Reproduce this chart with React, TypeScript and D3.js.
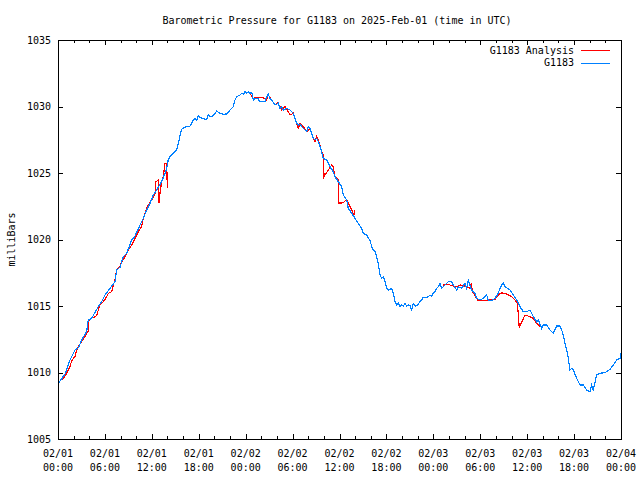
import React from "react";
import * as d3 from "d3";

const title = "Barometric Pressure for G1183 on 2025-Feb-01 (time in UTC)";
const yLabel = "milliBars";
const seriesNames = ["G1183 Analysis", "G1183"];
const seriesColors = ["#ff0000", "#0080ff"];
const startUtc = Date.UTC(2025, 1, 1, 0, 0);
const endUtc = Date.UTC(2025, 1, 4, 0, 0);
const yDomain = [1005, 1035];
const yTicks = [1005, 1010, 1015, 1020, 1025, 1030, 1035];

// hours since 02/01 00:00 UTC
const obsHours = [
  0.0, 0.9, 1.53, 2.17, 2.6, 3.03, 3.67, 3.87, 4.31, 5.15, 5.59, 6.01, 6.65, 7.29, 7.51, 7.93, 8.35, 8.79, 9.42, 9.85,
  10.49, 10.91, 11.34, 11.76, 12.19, 12.62, 13.26, 13.68, 13.9, 14.1, 14.32, 14.75, 15.18, 15.38, 15.73, 15.82, 16.24,
  16.88, 17.3, 17.52, 17.74, 17.94, 18.38, 19.02, 19.22, 19.44, 19.86, 20.29, 20.72, 21.14, 21.57, 22.0, 22.42, 22.63,
  22.85, 23.27, 23.49, 23.7, 23.91, 24.13, 24.34, 24.55, 24.77, 24.97, 25.19, 25.61, 25.83, 26.47, 26.69, 26.89, 27.11,
  27.33, 27.75, 28.17, 28.39, 28.61, 28.81, 29.25, 29.67, 30.09, 30.31, 30.52, 30.73, 30.95, 31.16, 31.59, 31.8, 32.0,
  32.23, 32.65, 32.86, 33.08, 33.29, 33.5, 33.72, 33.93, 34.36, 34.78, 35.2, 35.42, 35.84, 36.28, 36.48, 36.92, 37.12,
  37.56, 37.98, 38.4, 38.84, 39.05, 39.48, 39.68, 39.9, 40.12, 40.32, 40.54, 40.75, 40.96, 41.18, 41.4, 41.6, 41.82,
  42.03, 42.24, 42.67, 42.88, 43.1, 43.31, 43.52, 43.73, 43.95, 44.16, 44.37, 44.59, 44.8, 45.01, 45.23, 45.44, 45.65,
  45.87, 46.07, 46.29, 46.51, 46.71, 47.14, 47.35, 47.57, 47.79, 47.99, 48.21, 48.43, 48.63, 48.85, 49.07, 49.7, 49.91,
  50.34, 50.55, 50.98, 51.19, 51.62, 52.05, 52.26, 52.47, 52.9, 53.32, 53.54, 53.96, 54.39, 54.82, 55.03, 55.46, 55.88,
  56.3, 56.52, 56.74, 56.94, 57.16, 57.8, 58.22, 58.66, 59.08, 59.5, 59.94, 60.36, 60.78, 61.21, 61.42, 61.85, 62.06,
  62.49, 62.92, 63.34, 63.77, 64.19, 64.41, 64.62, 64.83, 65.05, 65.26, 65.47, 65.69, 65.9, 66.33, 66.75, 67.17, 67.61,
  68.03, 68.25, 68.45, 68.89, 69.31, 69.95, 70.59, 71.01, 71.44, 71.87, 72.0,
];
const obsValues = [
  1009.15, 1009.89, 1010.94, 1011.69, 1011.86, 1012.44, 1013.07, 1013.95, 1014.08, 1014.95, 1015.32, 1015.83, 1016.33,
  1016.83, 1017.71, 1017.91, 1018.71, 1018.96, 1019.96, 1020.26, 1021.09, 1021.59, 1022.22, 1022.72, 1023.35, 1023.72,
  1024.35, 1024.98, 1025.35, 1026.0, 1026.23, 1026.48, 1026.73, 1027.23, 1028.11, 1028.29, 1028.44, 1028.53, 1028.98,
  1029.11, 1028.93, 1029.29, 1029.11, 1029.03, 1029.36, 1029.23, 1029.31, 1029.66, 1029.49, 1029.41, 1029.44, 1029.74,
  1029.99, 1030.49, 1030.74, 1030.86, 1030.99, 1030.92, 1031.11, 1030.99, 1031.11, 1030.99, 1031.07, 1030.49, 1030.61,
  1030.56, 1030.36, 1030.36, 1030.74, 1030.92, 1030.61, 1030.49, 1030.11, 1030.24, 1029.86, 1029.99, 1029.74, 1029.86,
  1029.74, 1029.49, 1029.11, 1028.74, 1028.61, 1028.66, 1028.48, 1028.23, 1028.11, 1028.48, 1028.36, 1027.61, 1027.48,
  1027.61, 1027.35, 1026.98, 1026.6, 1026.1, 1025.98, 1025.47, 1025.1, 1024.72, 1024.35, 1023.97, 1023.35, 1022.97,
  1022.35, 1021.97, 1021.6, 1021.2, 1020.84, 1020.47, 1020.34, 1020.09, 1019.96, 1019.46, 1019.21, 1019.08, 1018.71,
  1018.21, 1017.33, 1017.08, 1017.2, 1016.83, 1016.33, 1016.2, 1016.33, 1015.95, 1015.32, 1015.08, 1015.2, 1014.95,
  1015.08, 1015.0, 1015.2, 1015.0, 1015.08, 1015.02, 1014.7, 1015.2, 1015.0, 1015.02, 1015.15, 1015.32, 1015.45,
  1015.65, 1015.63, 1015.7, 1015.83, 1015.75, 1015.95, 1016.08, 1016.33, 1016.45, 1016.71, 1016.33, 1016.71, 1016.83,
  1016.83, 1016.58, 1016.2, 1016.45, 1016.33, 1016.71, 1016.33, 1016.95, 1016.2, 1015.95, 1015.58, 1015.45, 1015.58,
  1015.83, 1015.45, 1015.4, 1015.58, 1015.95, 1016.33, 1016.58, 1016.71, 1016.45, 1016.2, 1015.83, 1015.45, 1014.95,
  1014.57, 1014.57, 1014.7, 1014.2, 1013.82, 1013.95, 1013.32, 1013.57, 1013.57, 1013.2, 1012.95, 1013.5, 1013.5,
  1013.2, 1012.82, 1012.2, 1011.69, 1011.07, 1010.19, 1010.32, 1010.19, 1009.56, 1009.06, 1009.06, 1008.68, 1008.56,
  1009.06, 1008.68, 1009.81, 1009.94, 1009.99, 1010.24, 1010.56, 1010.94, 1011.07, 1011.44,
];

// null marks a gap between analysis segments
const analysisHours = [
  0.5, 0.68, 1.11, 1.53, 1.75, 2.17, 2.39, 2.6, 3.03, 3.45, 3.67, 3.87, 3.96, 4.31, 4.73, 4.95, 5.15, 5.37, 5.79, 6.23,
  6.43, 6.87, 7.07, 7.29, 7.51, 7.93, 8.15, 8.57, 8.99, 9.42, 9.85, 10.27, 10.7, 10.91, 11.13, 11.34, 11.55, 11.98, 12.4,
  12.53, 12.83, 12.92, 13.04, 13.26, 13.47, 13.68, 13.9, 13.98, null,
  24.6, 24.97, 25.3, 25.74, 26.25, 26.69, 26.89, 27.33, 27.75, 28.04, 28.39, 28.61, 29.03, 29.45, 29.67, 30.09, 30.52,
  30.73, 30.95, 31.37, 31.8, 32.23, 32.45, 32.86, 33.08, 33.29, 33.5, 33.72, 33.93, 34.02, 34.57, 35.0, 35.2, 35.42,
  35.84, 35.93, 36.48, 36.92, 37.12, 37.56, 37.85, 37.9, null,
  49.28, 49.7, 50.13, 50.55, 50.98, 51.41, 51.83, 52.26, 52.69, 52.85, 53.0, 53.54, 53.75, 54.39, 55.24, 55.88, 56.3,
  56.74, 57.38, 58.02, 58.44, 58.73, 58.86, 58.98, 59.72, 60.36, 60.78, 61.21, 61.64,
];
const analysisValues = [
  1009.45, 1009.56, 1009.94, 1010.44, 1010.89, 1011.19, 1011.69, 1011.94, 1012.32, 1012.69, 1012.99, 1013.07, 1013.95,
  1014.08, 1014.2, 1014.27, 1014.7, 1015.08, 1015.32, 1015.7, 1015.95, 1016.08, 1016.58, 1016.95, 1017.71, 1017.95,
  1018.33, 1018.71, 1019.21, 1019.59, 1020.09, 1020.59, 1020.96, 1021.59, 1021.97, 1022.35, 1022.59, 1022.97, 1023.47,
  1024.35, 1024.47, 1022.72, 1023.47, 1024.35, 1024.72, 1025.73, 1025.73, 1023.85, null,
  1030.95, 1030.61, 1030.7, 1030.65, 1030.65, 1030.49, 1030.86, 1030.49, 1030.11, 1030.29, 1029.99, 1029.74, 1029.99,
  1029.61, 1029.36, 1029.49, 1028.74, 1028.36, 1028.74, 1028.48, 1028.11, 1028.36, 1027.9, 1027.35, 1027.73, 1027.48,
  1027.1, 1026.6, 1026.35, 1024.72, 1025.23, 1025.6, 1025.47, 1024.72, 1024.47, 1022.72, 1022.77, 1023.02, 1022.72,
  1022.22, 1021.84, 1022.2, null,
  1016.58, 1016.65, 1016.58, 1016.5, 1016.45, 1016.58, 1016.53, 1016.45, 1016.33, 1016.7, 1016.1, 1015.58, 1015.4,
  1015.4, 1015.45, 1015.5, 1015.83, 1016.0, 1015.9, 1015.7, 1015.45, 1015.2, 1014.45, 1013.4, 1014.32, 1014.2, 1014.08,
  1013.7, 1013.45,
];

const W = 640;
const H = 480;
const M = { left: 58, right: 621, top: 40, bottom: 439 };
const FONT = "'DejaVu Sans Mono', 'Liberation Mono', monospace";

type Pt = { t: Date; v: number | null };

export default function App() {
  const x = d3.scaleUtc().domain([new Date(startUtc), new Date(endUtc)]).range([M.left, M.right]);
  const y = d3.scaleLinear().domain(yDomain).range([M.bottom, M.top]);

  const toPts = (hs: (number | null)[], vs: (number | null)[]): Pt[] =>
    hs.map((h, i) => ({ t: new Date(startUtc + (h ?? 0) * 3600e3), v: h === null ? null : vs[i] }));

  const line = d3
    .line<Pt>()
    .defined((d) => d.v !== null)
    .x((d) => x(d.t))
    .y((d) => y(d.v as number));

  const obs = toPts(obsHours, obsValues);
  const ana = toPts(analysisHours, analysisValues);

  const majorX = x.ticks(d3.utcHour.every(6) as d3.TimeInterval);
  const minorX = x.ticks(d3.utcHour.every(2) as d3.TimeInterval);
  const fmtDate = d3.utcFormat("%m/%d");
  const fmtTime = d3.utcFormat("%H:%M");

  const majLen = 5;
  const minLen = 3;

  return (
    <svg width={W} height={H} style={{ position: "absolute", left: 0, top: 0, background: "#fff" }}>
      <rect x={0} y={0} width={W} height={H} fill="#fff" />
      <text x={337} y={20} fontFamily={FONT} fontSize={10} textAnchor="middle" dominantBaseline="central">
        {title}
      </text>
      <text
        transform={`translate(11,${(M.top + M.bottom) / 2}) rotate(-90)`}
        fontFamily={FONT}
        fontSize={10}
        textAnchor="middle"
        dominantBaseline="central"
      >
        {yLabel}
      </text>

      {/* ticks */}
      <g stroke="#000" strokeWidth={1} shapeRendering="crispEdges">
        {minorX.map((t, i) => {
          const isMajor = t.getUTCHours() % 6 === 0;
          const len = isMajor ? majLen : minLen;
          const xx = Math.round(x(t)) + 0.5;
          return (
            <g key={"xt" + i}>
              <line x1={xx} x2={xx} y1={M.bottom} y2={M.bottom - len} />
              <line x1={xx} x2={xx} y1={M.top} y2={M.top + len} />
            </g>
          );
        })}
        {yTicks.map((v, i) => {
          const yy = Math.round(y(v)) + 0.5;
          return (
            <g key={"yt" + i}>
              <line x1={M.left} x2={M.left + majLen} y1={yy} y2={yy} />
              <line x1={M.right} x2={M.right - majLen} y1={yy} y2={yy} />
            </g>
          );
        })}
      </g>

      {/* tick labels */}
      {yTicks.map((v, i) => (
        <text
          key={"yl" + i}
          x={M.left - 7}
          y={y(v)}
          fontFamily={FONT}
          fontSize={10}
          textAnchor="end"
          dominantBaseline="central"
        >
          {v}
        </text>
      ))}
      {majorX.map((t, i) => (
        <g key={"xl" + i}>
          <text x={x(t)} y={453} fontFamily={FONT} fontSize={10} textAnchor="middle" dominantBaseline="central">
            {fmtDate(t)}
          </text>
          <text x={x(t)} y={467} fontFamily={FONT} fontSize={10} textAnchor="middle" dominantBaseline="central">
            {fmtTime(t)}
          </text>
        </g>
      ))}

      {/* data */}
      <path
        d={line(ana) ?? ""}
        fill="none"
        stroke={seriesColors[0]}
        strokeWidth={1.2}
        shapeRendering="crispEdges"
      />
      <path
        d={line(obs) ?? ""}
        fill="none"
        stroke={seriesColors[1]}
        strokeWidth={1.2}
        shapeRendering="crispEdges"
      />

      {/* legend */}
      {seriesNames.map((name, i) => {
        const ly = 50 + i * 12.5;
        return (
          <g key={"lg" + i}>
            <text x={574} y={ly} fontFamily={FONT} fontSize={10} textAnchor="end" dominantBaseline="central">
              {name}
            </text>
            <line
              x1={581}
              x2={610}
              y1={Math.round(ly) + 0.5}
              y2={Math.round(ly) + 0.5}
              stroke={seriesColors[i]}
              strokeWidth={1}
              shapeRendering="crispEdges"
            />
          </g>
        );
      })}

      {/* frame */}
      <rect
        x={M.left + 0.5}
        y={M.top + 0.5}
        width={M.right - M.left}
        height={M.bottom - M.top}
        fill="none"
        stroke="#000"
        strokeWidth={1}
        shapeRendering="crispEdges"
      />
    </svg>
  );
}
